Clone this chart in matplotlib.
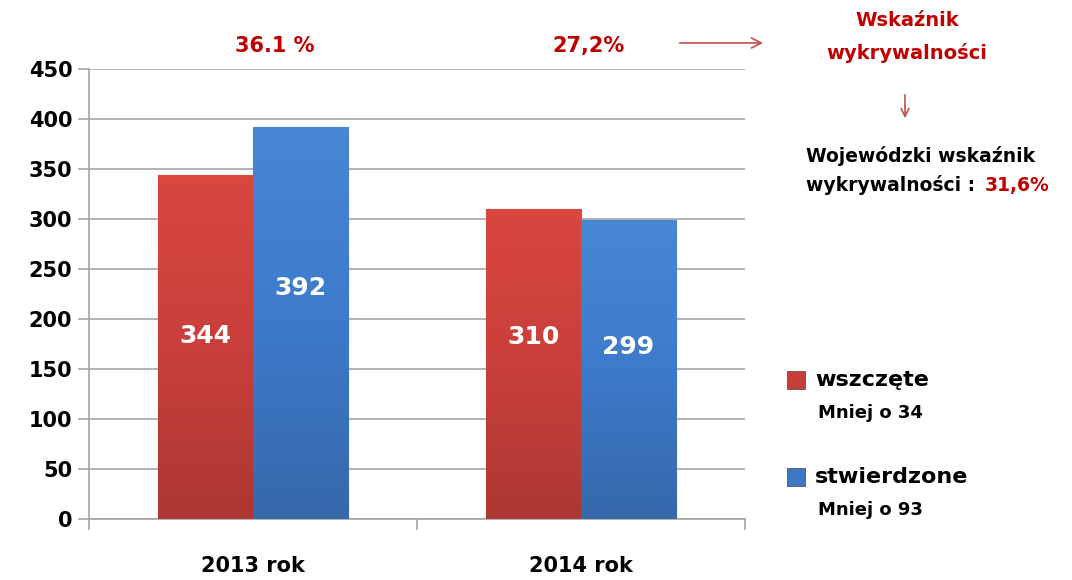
import matplotlib.pyplot as plt
import numpy as np
from matplotlib.colors import LinearSegmentedColormap
from matplotlib.patches import FancyArrowPatch

# data
years = ['2013 rok', '2014 rok']
wszczete = [344, 310]
stwierdzone = [392, 299]
rates = ['36.1 %', '27,2%']
legend_notes = ['Mniej o 34', 'Mniej o 93']
yticks = [0, 50, 100, 150, 200, 250, 300, 350, 400, 450]

# where the white value labels sit inside the bars (data units)
label_y_red = [183, 182]
label_y_blue = [231, 172]

plt.rcParams['font.family'] = ['DejaVu Sans']
W, H = 1072, 580
fig = plt.figure(figsize=(W / 100, H / 100), dpi=100)
fig.patch.set_facecolor('white')


def fx(px):
    return px / W


def fy(py):
    return 1 - py / H


ax = fig.add_axes([fx(89), fy(519), fx(745) - fx(89), fy(69) - fy(519)])

x = np.arange(len(years))
w = 0.29
red_cmap = LinearSegmentedColormap.from_list('r', ['#d9473f', '#c93f3b', '#ad3734'])
blue_cmap = LinearSegmentedColormap.from_list('b', ['#4787d4', '#3d7acb', '#3668aa'])

bars_r = ax.bar(x - w / 2, wszczete, w, color='#c83e3b', zorder=2)
bars_b = ax.bar(x + w / 2, stwierdzone, w, color='#3d78c4', zorder=2)

# vertical gradient on each bar, clipped to the bar
grad = np.linspace(0, 1, 256).reshape(-1, 1)
for bars, cmap, edge in [(bars_r, red_cmap, '#9c302e'), (bars_b, blue_cmap, '#2f5d99')]:
    for b in bars:
        x0, y0 = b.get_x(), b.get_y()
        im = ax.imshow(grad, cmap=cmap, aspect='auto', zorder=3,
                       extent=(x0, x0 + b.get_width(), y0, y0 + b.get_height()),
                       origin='upper')
        im.set_clip_path(b)
        b.set_edgecolor(edge)
        b.set_linewidth(0.8)

for i in range(len(years)):
    ax.text(x[i] - w / 2, label_y_red[i], str(wszczete[i]), color='white',
            fontsize=18, fontweight='bold', ha='center', va='center', zorder=5)
    ax.text(x[i] + w / 2, label_y_blue[i], str(stwierdzone[i]), color='white',
            fontsize=18, fontweight='bold', ha='center', va='center', zorder=5)

ax.set_xlim(-0.5, 1.5)
ax.set_ylim(0, 450)
ax.set_yticks(yticks)
ax.yaxis.grid(True, color='#a6a6a6', linewidth=1.2, zorder=0)
ax.set_axisbelow(True)
ax.tick_params(axis='y', length=8, width=1.2, color='#a6a6a6', labelsize=15, pad=4)
for lab in ax.get_yticklabels():
    lab.set_fontweight('bold')

ax.set_xticks(x)
ax.set_xticklabels(years, fontsize=15, fontweight='bold')
ax.tick_params(axis='x', which='major', length=0, pad=27)
ax.set_xticks([-0.5, 0.5, 1.5], minor=True)
ax.tick_params(axis='x', which='minor', length=8, width=1.2, color='#a6a6a6')

for s in ['top', 'right']:
    ax.spines[s].set_visible(False)
for s in ['left', 'bottom']:
    ax.spines[s].set_color('#a6a6a6')
    ax.spines[s].set_linewidth(1.2)

# rates above the groups
red = '#c00000'
fig.text(fx(275), fy(46), rates[0], color=red, fontsize=15, fontweight='bold', ha='center', va='center')
fig.text(fx(589), fy(46), rates[1], color=red, fontsize=15, fontweight='bold', ha='center', va='center')

# arrows
fig.add_artist(FancyArrowPatch(
    (fx(677), fy(43)), (fx(766), fy(43)), transform=fig.transFigure,
    arrowstyle='->', mutation_scale=18, color='#c0504d', linewidth=1.2))
fig.add_artist(FancyArrowPatch(
    (fx(905), fy(92)), (fx(905), fy(121)), transform=fig.transFigure,
    arrowstyle='->', mutation_scale=14, color='#c0504d', linewidth=1.2))

fig.text(fx(907), fy(21), 'Wskaźnik', color=red, fontsize=14, fontweight='bold', ha='center', va='center')
fig.text(fx(907), fy(53), 'wykrywalności', color=red, fontsize=14, fontweight='bold', ha='center', va='center')

fig.text(fx(806), fy(156), 'Wojewódzki wskaźnik', color='black', fontsize=13.5, fontweight='bold', ha='left', va='center')
t = fig.text(fx(806), fy(185), 'wykrywalności :', color='black', fontsize=13.5, fontweight='bold', ha='left', va='center')
ax.annotate('31,6%', xy=(1, 0.5), xycoords=t, xytext=(7, 0), textcoords='offset points',
            color=red, fontsize=13.5, fontweight='bold', ha='left', va='center', annotation_clip=False)

# legend
for i, (name, col, py) in enumerate([('wszczęte', '#c83e3b', 380), ('stwierdzone', '#3d78c4', 477)]):
    fig.add_artist(plt.Rectangle((fx(787), fy(py + 9)), fx(18), 18 / H, transform=fig.transFigure,
                                 facecolor=col, edgecolor='#555555', linewidth=0.6))
    fig.text(fx(815), fy(py), name, fontsize=16, fontweight='bold', ha='left', va='center')
    fig.text(fx(818), fy(py + 33), legend_notes[i], fontsize=13, fontweight='bold', ha='left', va='center')

plt.savefig('out.png', dpi=100, facecolor='white')
